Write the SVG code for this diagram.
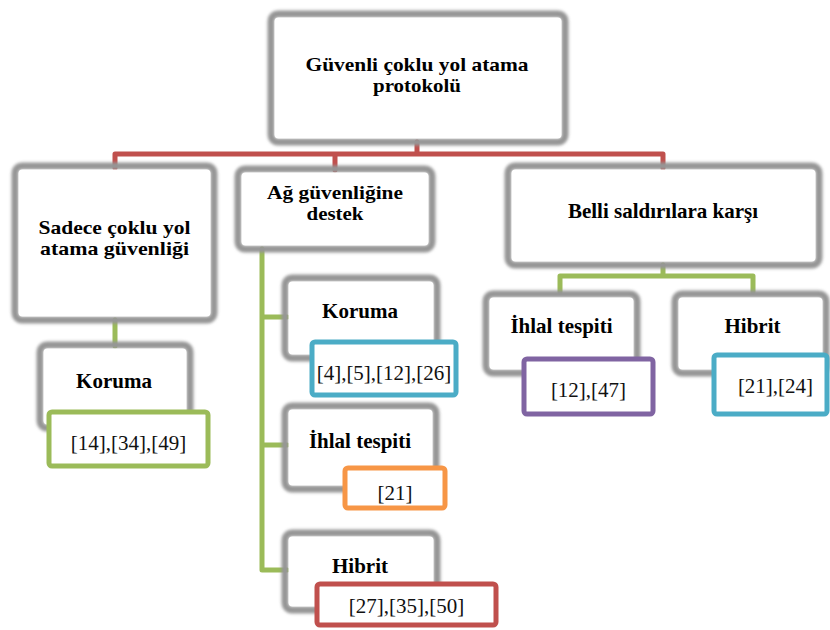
<svg xmlns="http://www.w3.org/2000/svg" width="830" height="630" viewBox="0 0 830 630">
<defs>
<filter id="soft" x="-10%" y="-10%" width="120%" height="120%">
<feGaussianBlur stdDeviation="1.4"/>
</filter>
<style>
.frame{fill:none;stroke:#959595;stroke-width:7;filter:url(#soft)}
.inner{fill:#ffffff}
.t{font-family:"Liberation Serif","Times New Roman",serif;font-size:21px;font-weight:bold;fill:#000;text-anchor:middle}
.t2{font-family:"Liberation Serif","Times New Roman",serif;font-size:19px;font-weight:bold;fill:#000;text-anchor:middle}
.r{font-family:"Liberation Serif","Times New Roman",serif;font-size:21px;fill:#111;text-anchor:middle}
.ref{fill:#fff;stroke-width:5}
.red{stroke:#C0504D}
.green{stroke:#9BBB59}
.blue{stroke:#4BACC6}
.orange{stroke:#F79646}
.purple{stroke:#8064A2}
.conn{fill:none;stroke-width:5;stroke-linejoin:round;stroke-linecap:round}
</style>
</defs>
<rect width="830" height="630" fill="#fff"/>
<g id="connectors">
<path class="conn red" d="M417 142 V154 M115 168 V154 H663 V168 M335 154 V170"/>
<path class="conn green" d="M115 320 V346"/>
<path class="conn green" d="M262 249 V570 M262 317 H287 M262 445 H287 M262 570 H287"/>
<path class="conn green" d="M663 265 V276 M560 292 V276 H753 V292"/>
</g>
<g id="root">
<rect class="frame" x="271" y="14" width="294" height="128" rx="7"/>
<rect class="inner" x="274.5" y="17.5" width="287" height="121" rx="4"/>
<text class="t2" x="417" y="71" textLength="223" lengthAdjust="spacingAndGlyphs">Güvenli çoklu yol atama</text>
<text class="t2" x="417" y="92" textLength="88" lengthAdjust="spacingAndGlyphs">protokolü</text>
</g>
<g id="sadece">
<rect class="frame" x="15" y="166" width="199" height="154" rx="7"/>
<rect class="inner" x="18.5" y="169.5" width="192" height="147" rx="4"/>
<text class="t2" x="114.5" y="234" textLength="152" lengthAdjust="spacingAndGlyphs">Sadece çoklu yol</text>
<text class="t2" x="114.5" y="255" textLength="149" lengthAdjust="spacingAndGlyphs">atama güvenliği</text>
</g>
<g id="ag">
<rect class="frame" x="238" y="169" width="194" height="80" rx="7"/>
<rect class="inner" x="241.5" y="172.5" width="187" height="73" rx="4"/>
<text class="t2" x="335" y="199" textLength="136" lengthAdjust="spacingAndGlyphs">Ağ güvenliğine</text>
<text class="t2" x="335" y="220" textLength="57" lengthAdjust="spacingAndGlyphs">destek</text>
</g>
<g id="belli">
<rect class="frame" x="508" y="166" width="311" height="99" rx="7"/>
<rect class="inner" x="511.5" y="169.5" width="304" height="92" rx="4"/>
<text class="t" x="663" y="218">Belli saldırılara karşı</text>
</g>
<g id="koruma-left">
<rect class="frame" x="40" y="345" width="150" height="83" rx="7"/>
<rect class="inner" x="43.5" y="348.5" width="143" height="76" rx="4"/>
<text class="t" x="114" y="388">Koruma</text>
</g>
<g id="ref-left">
<rect class="ref green" x="49" y="412" width="159" height="54" rx="3"/>
<text class="r" x="128.5" y="450">[14],[34],[49]</text>
</g>
<g id="koruma-mid">
<rect class="frame" x="285" y="278" width="152" height="80" rx="7"/>
<rect class="inner" x="288.5" y="281.5" width="145" height="73" rx="4"/>
<text class="t" x="360" y="318">Koruma</text>
</g>
<g id="ref-koruma-mid">
<rect class="ref blue" x="312" y="342" width="144" height="53" rx="3"/>
<text class="r" x="384" y="380">[4],[5],[12],[26]</text>
</g>
<g id="ihlal-mid">
<rect class="frame" x="285" y="406" width="151" height="83" rx="7"/>
<rect class="inner" x="288.5" y="409.5" width="144" height="76" rx="4"/>
<text class="t" x="360" y="448">İhlal tespiti</text>
</g>
<g id="ref-ihlal-mid">
<rect class="ref orange" x="345" y="468" width="100" height="40" rx="3"/>
<text class="r" x="395" y="500">[21]</text>
</g>
<g id="hibrit-mid">
<rect class="frame" x="285" y="533" width="152" height="77" rx="7"/>
<rect class="inner" x="288.5" y="536.5" width="145" height="70" rx="4"/>
<text class="t" x="360" y="573">Hibrit</text>
</g>
<g id="ref-hibrit-mid">
<rect class="ref red" x="317" y="584" width="179" height="41" rx="3"/>
<text class="r" x="406.5" y="613">[27],[35],[50]</text>
</g>
<g id="ihlal-right">
<rect class="frame" x="486" y="294" width="151" height="79" rx="7"/>
<rect class="inner" x="489.5" y="297.5" width="144" height="72" rx="4"/>
<text class="t" x="561.5" y="333">İhlal tespiti</text>
</g>
<g id="ref-ihlal-right">
<rect class="ref purple" x="524" y="359" width="129" height="55" rx="3"/>
<text class="r" x="588.5" y="397">[12],[47]</text>
</g>
<g id="hibrit-right">
<rect class="frame" x="675" y="294" width="151" height="79" rx="7"/>
<rect class="inner" x="678.5" y="297.5" width="144" height="72" rx="4"/>
<text class="t" x="752.5" y="333">Hibrit</text>
</g>
<g id="ref-hibrit-right">
<rect class="ref blue" x="714" y="355" width="113" height="59" rx="3"/>
<text class="r" x="775.5" y="393">[21],[24]</text>
</g>
</svg>
